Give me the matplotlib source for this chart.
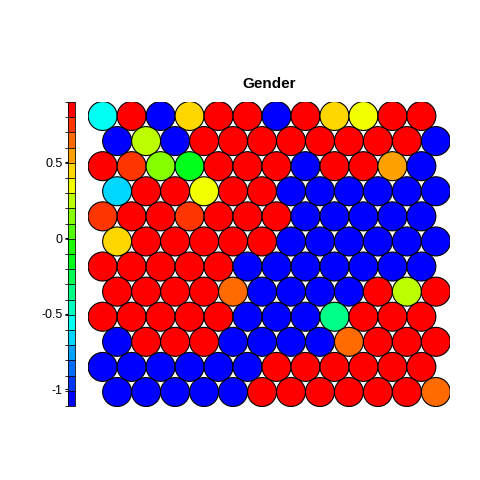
import numpy as np
import matplotlib
matplotlib.use("Agg")
import matplotlib.pyplot as plt
from matplotlib.collections import PatchCollection
from matplotlib.patches import Circle
from matplotlib.colors import ListedColormap, BoundaryNorm, hsv_to_rgb
from matplotlib.colorbar import ColorbarBase

plt.rcParams['font.family'] = ['Liberation Sans', 'DejaVu Sans']
plt.rcParams['axes.unicode_minus'] = False

# Valores das unidades do mapa (Gender, escalado)
R, B = 0.90, -1.11
OR, DO, O, G, Y, YG, GY, GR, GC, C, LB = 0.75, 0.65, 0.55, 0.45, 0.35, 0.25, 0.15, -0.16, -0.36, -0.56, -0.66

# linhas de cima para baixo; linhas impares deslocadas meia unidade
rows = [
    [C, R, B, G, R, R, B, R, G, Y, R, R],
    [B, YG, B, R, R, R, R, R, R, R, R, B],
    [R, OR, GY, GR, R, R, R, B, R, R, O, B],
    [LB, R, R, Y, R, R, B, B, B, B, B, B],
    [OR, R, R, OR, R, R, R, B, B, B, B, B],
    [G, R, R, R, R, R, B, B, B, B, B, B],
    [R, R, R, R, R, B, B, B, B, B, B, B],
    [R, R, R, R, DO, B, B, B, B, R, YG, R],
    [R, R, R, R, R, B, B, B, GC, R, R, R],
    [B, R, R, R, B, B, B, B, DO, R, R, R],
    [B, B, B, B, B, B, R, R, R, R, R, R],
    [B, B, B, B, B, R, R, R, R, R, R, DO],
]

vmin, vmax, nlev = -1.11, 0.90, 20
cbar_ticks = [-1, -0.5, 0, 0.5]
cbar_labels = ['-1', '-0.5', '0', '0.5']

# paleta arco-iris (azul -> vermelho)
hues = (4 / 6) * (nlev - 1 - np.arange(nlev)) / (nlev - 1)
cols = hsv_to_rgb(np.column_stack([hues, np.ones(nlev), np.ones(nlev)]))
cmap = ListedColormap(cols)
bounds = np.linspace(vmin, vmax, nlev + 1)
norm = BoundaryNorm(bounds, nlev)

fig = plt.figure(figsize=(4.8, 4.8), dpi=100)
ax = fig.add_axes([88 / 480, 1 - 406.5 / 480, 362.5 / 480, 305 / 480])

nr = len(rows)
h = np.sqrt(3) / 2
patches, vals = [], []
for i, row in enumerate(rows):
    for j, v in enumerate(row):
        x = j + 1 + (0.5 if i % 2 else 0)
        y = (nr - 1 - i) * h
        patches.append(Circle((x, y), 0.5))
        vals.append(v)

pc = PatchCollection(patches, cmap=cmap, norm=norm, edgecolor='black', linewidth=0.8)
pc.set_array(np.array(vals))
ax.add_collection(pc)
ax.set_xlim(0.5, 13)
ax.set_ylim(-0.5, (nr - 1) * h + 0.5)
ax.set_aspect('equal')
ax.set_axis_off()
ax.set_title('Gender', fontsize=11, fontweight='bold', pad=10)

# Barra de cores
cax = fig.add_axes([68 / 480, 1 - 406 / 480, 7 / 480, 304 / 480])
cb = ColorbarBase(cax, cmap=cmap, norm=norm, boundaries=bounds, drawedges=True)
cb.outline.set_linewidth(0.6)
cb.dividers.set_linewidth(0.6)
cb.set_ticks(cbar_ticks)
cb.set_ticklabels(cbar_labels)
cax.yaxis.set_ticks_position('left')
cax.tick_params(length=2, labelsize=9, pad=2)

fig.savefig('out.png', dpi=100)
